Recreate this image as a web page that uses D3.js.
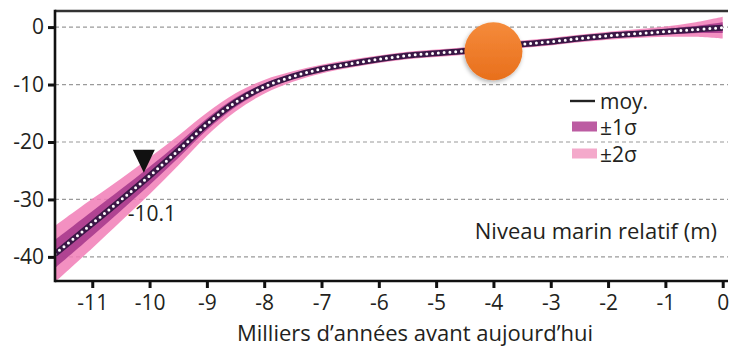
<!DOCTYPE html>
<html>
<head>
<meta charset="utf-8">
<script src="https://cdn.jsdelivr.net/npm/d3@7"></script>
<style>
  html, body { margin: 0; padding: 0; background: #ffffff; }
  svg { display: block; font-family: "Open Sans", "Noto Sans", sans-serif; }
</style>
</head>
<body>
<svg id="chart" width="730" height="348"></svg>
<script>
// Relative sea level reconstruction (m), thousands of years before present
const years = [-11.65, -11, -10.5, -10, -9.5, -9, -8.5, -8, -7.5, -7, -6.5, -6, -5.5, -5, -4.5, -4, -3.5, -3, -2.5, -2, -1.5, -1, -0.5, 0];
const meanLevel = [-39.5, -34.2, -30.1, -25.9, -21.5, -16.9, -13.1, -10.4, -8.6, -7.3, -6.4, -5.6, -4.95, -4.55, -4.15, -3.6, -3.0, -2.55, -2.0, -1.5, -1.15, -0.8, -0.45, -0.1];
const sigma = [2.45, 2.15, 1.85, 1.6, 1.3, 1.0, 0.8, 0.6, 0.45, 0.38, 0.35, 0.33, 0.33, 0.33, 0.33, 0.33, 0.33, 0.33, 0.33, 0.35, 0.38, 0.45, 0.62, 0.95];

const xTicks = [-11, -10, -9, -8, -7, -6, -5, -4, -3, -2, -1, 0];
const yTicks = [0, -10, -20, -30, -40];

// Highlighted site point and dated marker
const siteYear = -4, siteLevel = -4.2;
const markerYear = -10.1, markerLabel = "-10.1";

const legendItems = [
  { key: "mean", label: "moy." },
  { key: "s1", label: "\u00b11\u03c3" },
  { key: "s2", label: "\u00b12\u03c3" }
];

const colors = { s2: "#f17cb6", s1: "#a83b8d", line: "#3a1746", s1Legend: "#bc5ca2", s2Legend: "#f4a9cb", grid: "#9a9a9a", text: "#231f20" };

const svg = d3.select("#chart");
const plotLeft = 55, plotRight = 728, plotTop = 11, plotBottom = 281;

const x = d3.scaleLinear().domain([-11.65, 0.0925]).range([plotLeft, plotRight]);
const y = d3.scaleLinear().domain([2.8, -44.2]).range([plotTop, plotBottom]);

const data = years.map((t, i) => ({ t, m: meanLevel[i], s: sigma[i] }));

const defs = svg.append("defs");
defs.append("clipPath").attr("id", "plotClip")
  .append("rect").attr("x", plotLeft).attr("y", plotTop)
  .attr("width", plotRight - plotLeft).attr("height", plotBottom - plotTop);
const grad = defs.append("linearGradient").attr("id", "orangeGrad").attr("x1", 0).attr("y1", 0).attr("x2", 0).attr("y2", 1);
grad.append("stop").attr("offset", "0%").attr("stop-color", "#f58b3b");
grad.append("stop").attr("offset", "100%").attr("stop-color", "#e86f1c");
const shadow = defs.append("filter").attr("id", "softShadow").attr("x", "-30%").attr("y", "-30%").attr("width", "160%").attr("height", "160%");
shadow.append("feDropShadow").attr("dx", -1).attr("dy", 2).attr("stdDeviation", 2).attr("flood-color", "#000").attr("flood-opacity", 0.3);

// Grid lines
svg.append("g").selectAll("line").data(yTicks).join("line")
  .attr("x1", plotLeft).attr("x2", plotRight)
  .attr("y1", d => y(d)).attr("y2", d => y(d))
  .attr("stroke", colors.grid).attr("stroke-width", 1.2).attr("stroke-dasharray", "4,3");

const plot = svg.append("g").attr("clip-path", "url(#plotClip)");
const curve = d3.curveCatmullRom.alpha(0.5);

const band = k => d3.area().curve(curve)
  .x(d => x(d.t)).y0(d => y(d.m - k * d.s)).y1(d => y(d.m + k * d.s));

plot.append("path").datum(data).attr("d", band(2)).attr("fill", colors.s2).attr("opacity", 0.85);
plot.append("path").datum(data).attr("d", band(1)).attr("fill", colors.s1).attr("opacity", 0.9);

// Mean curve: dark stroke with a chain of white beads
const line = d3.line().curve(curve).x(d => x(d.t)).y(d => y(d.m));
plot.append("path").datum(data).attr("d", line)
  .attr("fill", "none").attr("stroke", colors.line).attr("stroke-width", 6);
plot.append("path").datum(data).attr("d", line)
  .attr("fill", "none").attr("stroke", "#ffffff").attr("stroke-width", 3)
  .attr("stroke-linecap", "round").attr("stroke-dasharray", "0,5.8");

// Axes frame
const frame = svg.append("g").attr("stroke-width", 2.6).attr("fill", "none");
frame.append("line").attr("x1", plotLeft).attr("x2", plotRight).attr("y1", plotTop).attr("y2", plotTop).attr("stroke", "#333");
frame.append("line").attr("x1", plotLeft).attr("x2", plotLeft).attr("y1", plotTop - 1.3).attr("y2", plotBottom + 1.3).attr("stroke", "#111");

const fmt = d => String(d);

const xAxis = svg.append("g").attr("transform", `translate(0,${plotBottom})`)
  .call(d3.axisBottom(x).tickValues(xTicks).tickFormat(fmt).tickSize(7).tickPadding(7));
xAxis.select(".domain").attr("stroke", "#111").attr("stroke-width", 2.6).attr("d", `M${plotLeft},0H${plotRight}`);
xAxis.selectAll(".tick line").attr("stroke", "#111").attr("stroke-width", 3);
xAxis.selectAll(".tick text").attr("font-size", 21).attr("fill", colors.text).attr("font-family", "Open Sans");

const yAxis = svg.append("g").attr("transform", `translate(${plotLeft},0)`)
  .call(d3.axisLeft(y).tickValues(yTicks).tickFormat(fmt).tickSize(7).tickPadding(4));
yAxis.select(".domain").remove();
yAxis.selectAll(".tick line").attr("stroke", "#111").attr("stroke-width", 3);
yAxis.selectAll(".tick text").attr("font-size", 21).attr("fill", colors.text).attr("font-family", "Open Sans");

// Orange site marker
svg.append("circle")
  .attr("cx", x(siteYear)).attr("cy", y(siteLevel)).attr("r", 29)
  .attr("fill", "url(#orangeGrad)").attr("filter", "url(#softShadow)");

// Dated marker triangle
const markerLevel = d3.interpolateNumber(meanLevel[2], meanLevel[3])((markerYear - years[2]) / (years[3] - years[2]));
const tipX = x(markerYear), tipY = y(markerLevel) - 8;
svg.append("path")
  .attr("d", `M${tipX - 11},${tipY - 23}L${tipX + 11},${tipY - 23}L${tipX},${tipY}Z`)
  .attr("fill", "#111");
svg.append("text").attr("x", tipX - 16).attr("y", 220.5)
  .attr("font-size", 21).attr("fill", colors.text).text(markerLabel);

// Titles
svg.append("text").attr("x", 717).attr("y", 239).attr("text-anchor", "end")
  .attr("font-size", 22).attr("fill", colors.text).text("Niveau marin relatif (m)");
svg.append("text").attr("x", 415).attr("y", 341).attr("text-anchor", "middle")
  .attr("font-size", 22).attr("fill", colors.text).text("Milliers d\u2019ann\u00e9es avant aujourd\u2019hui");

// Legend
const legend = svg.append("g").attr("transform", "translate(571,0)");
const rowY = [101, 126.5, 153.5];
legendItems.forEach((item, i) => {
  const g = legend.append("g").attr("transform", `translate(0,${rowY[i]})`);
  if (item.key === "mean") {
    g.append("line").attr("x1", -1).attr("x2", 24).attr("y1", 0).attr("y2", 0)
      .attr("stroke", "#222").attr("stroke-width", 2.4);
  } else {
    g.append("rect").attr("x", 1).attr("y", -5).attr("width", 25).attr("height", 10)
      .attr("fill", item.key === "s1" ? colors.s1Legend : colors.s2Legend);
  }
  g.append("text").attr("x", 29).attr("y", 8).attr("font-size", 21).attr("fill", colors.text).text(item.label);
});
</script>
</body>
</html>
